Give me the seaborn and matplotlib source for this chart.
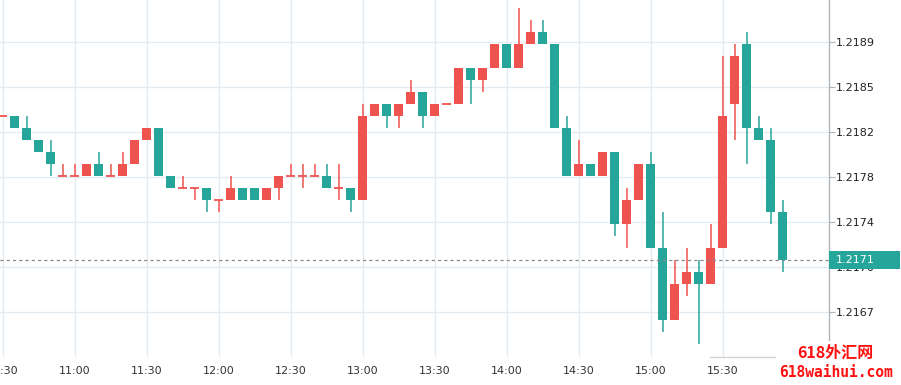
import numpy as np
import pandas as pd
import matplotlib
matplotlib.use("Agg")
import matplotlib.pyplot as plt
import matplotlib.transforms as mtransforms
from matplotlib.patches import Rectangle
from matplotlib.lines import Line2D
import seaborn as sns

# 5 minute candles, 10:30 -> 15:55
opens = [1.2183, 1.2183, 1.2182, 1.2181, 1.2180, 1.2178, 1.2178, 1.2178, 1.2179, 1.2178,
         1.2178, 1.2179, 1.2181, 1.2182, 1.2178, 1.2177, 1.2177, 1.2177, 1.2176, 1.2176,
         1.2177, 1.2177, 1.2176, 1.2177, 1.2178, 1.2178, 1.2178, 1.2178, 1.2177, 1.2177,
         1.2176, 1.2183, 1.2184, 1.2183, 1.2184, 1.2185, 1.2183, 1.2184, 1.2184, 1.2187,
         1.2186, 1.2187, 1.2189, 1.2187, 1.2189, 1.2190, 1.2189, 1.2182, 1.2178, 1.2179,
         1.2178, 1.2180, 1.2174, 1.2176, 1.2179, 1.2172, 1.2166, 1.2169, 1.2170, 1.2169,
         1.2172, 1.2184, 1.2189, 1.2182, 1.2181, 1.2175]
highs = [1.2183, 1.2183, 1.2183, 1.2181, 1.2181, 1.2179, 1.2179, 1.2179, 1.2180, 1.2179,
         1.2180, 1.2181, 1.2182, 1.2182, 1.2178, 1.2178, 1.2177, 1.2177, 1.2176, 1.2178,
         1.2177, 1.2177, 1.2177, 1.2178, 1.2179, 1.2179, 1.2179, 1.2179, 1.2179, 1.2177,
         1.2184, 1.2184, 1.2184, 1.2184, 1.2186, 1.2185, 1.2184, 1.2184, 1.2187, 1.2187,
         1.2187, 1.2189, 1.2189, 1.2192, 1.2191, 1.2191, 1.2189, 1.2183, 1.2181, 1.2179,
         1.2180, 1.2180, 1.2177, 1.2179, 1.2180, 1.2175, 1.2171, 1.2172, 1.2171, 1.2174,
         1.2188, 1.2189, 1.2190, 1.2183, 1.2182, 1.2176]
lows = [1.2183, 1.2182, 1.2181, 1.2180, 1.2178, 1.2178, 1.2178, 1.2178, 1.2178, 1.2178,
        1.2178, 1.2179, 1.2181, 1.2178, 1.2177, 1.2177, 1.2176, 1.2175, 1.2175, 1.2176,
        1.2176, 1.2176, 1.2176, 1.2176, 1.2178, 1.2177, 1.2178, 1.2177, 1.2176, 1.2175,
        1.2176, 1.2183, 1.2182, 1.2182, 1.2184, 1.2182, 1.2183, 1.2184, 1.2184, 1.2184,
        1.2185, 1.2187, 1.2187, 1.2187, 1.2189, 1.2189, 1.2182, 1.2178, 1.2178, 1.2178,
        1.2178, 1.2173, 1.2172, 1.2176, 1.2172, 1.2165, 1.2166, 1.2168, 1.2164, 1.2169,
        1.2172, 1.2181, 1.2179, 1.2181, 1.2174, 1.2170]
closes = [1.2183, 1.2182, 1.2181, 1.2180, 1.2179, 1.2178, 1.2178, 1.2179, 1.2178, 1.2178,
          1.2179, 1.2181, 1.2182, 1.2178, 1.2177, 1.2177, 1.2177, 1.2176, 1.2176, 1.2177,
          1.2176, 1.2176, 1.2177, 1.2178, 1.2178, 1.2178, 1.2178, 1.2177, 1.2177, 1.2176,
          1.2183, 1.2184, 1.2183, 1.2184, 1.2185, 1.2183, 1.2184, 1.2184, 1.2187, 1.2186,
          1.2187, 1.2189, 1.2187, 1.2189, 1.2190, 1.2189, 1.2182, 1.2178, 1.2179, 1.2178,
          1.2180, 1.2174, 1.2176, 1.2179, 1.2172, 1.2166, 1.2169, 1.2170, 1.2169, 1.2172,
          1.2183, 1.2188, 1.2182, 1.2181, 1.2175, 1.2171]

time_ticks = [0, 6, 12, 18, 24, 30, 36, 42, 48, 54, 60]
time_labels = ["10:30", "11:00", "11:30", "12:00", "12:30", "13:00",
               "13:30", "14:00", "14:30", "15:00", "15:30"]

price_ticks = [1.216667, 1.217042, 1.217417, 1.217792, 1.218167, 1.218542, 1.218917]
price_labels = ["1.2167", "1.2170", "1.2174", "1.2178", "1.2182", "1.2185", "1.2189"]
top_tick, top_label = 1.219292, "1.2193"
last_price = 1.2171

UP = "#ef5350"
DOWN = "#26a69a"
GRID = "#e2ebf2"

df = pd.DataFrame({"open": opens, "high": highs, "low": lows, "close": closes})
df["x"] = np.arange(len(df))
df["up"] = df["close"] >= df["open"] - 1e-9
df["color"] = np.where(df["up"], UP, DOWN)
df["doji"] = (df["close"] - df["open"]).abs() < 1e-7

sns.set_theme(style="white")
plt.rcParams["font.family"] = ["DejaVu Sans"]

W, H = 901, 385
bottom_px, right_px = 357, 828.5
fig = plt.figure(figsize=(W / 100, H / 100), dpi=100)
ax = fig.add_axes([0, 1 - bottom_px / H, right_px / W, bottom_px / H])

# wicks
ax.vlines(df["x"], df["low"], df["high"], colors=df["color"], linewidth=1.1, zorder=2)
# bodies
body = df[~df["doji"]]
ax.bar(body["x"], (body["close"] - body["open"]).abs(),
       bottom=np.minimum(body["open"], body["close"]),
       width=0.75, color=body["color"], linewidth=0, zorder=3)
doji = df[df["doji"]]
ax.hlines(doji["open"], doji["x"] - 0.375, doji["x"] + 0.375,
          colors=doji["color"], linewidth=1.3, zorder=3)

# last price line
ax.axhline(last_price, color="#888888", linestyle=(0, (2.5, 2.5)), linewidth=0.9, zorder=4)

ax.set_xlim(-0.21, 68.83)
ax.set_ylim(1.2162942, 1.2192692)

ax.set_xticks(time_ticks)
ax.set_xticklabels(time_labels)
ax.set_yticks(price_ticks)
ax.set_yticklabels(price_labels)
ax.grid(True, color=GRID, linewidth=1.0, zorder=0)
ax.set_axisbelow(True)

ax.tick_params(axis="x", length=0, pad=6.5, labelsize=8, labelcolor="#333333")
ax.tick_params(axis="y", left=False, labelleft=False, right=True, labelright=True,
               length=4, width=0.8, color="#b0b3b8", pad=1.5, labelsize=8,
               labelcolor="#222222")
for side in ["top", "left", "bottom"]:
    ax.spines[side].set_visible(False)
ax.spines["right"].set_color("#b0b3b8")
ax.spines["right"].set_linewidth(1.0)

# partially visible top label
blend = mtransforms.blended_transform_factory(ax.transAxes, ax.transData)
ax.text(1 + 7 / right_px, top_tick, top_label, transform=blend, ha="left", va="center",
        fontsize=8, color="#222222", clip_on=False)

# last price badge
pip_h = 0.0001 * 9 / 12
ax.add_patch(Rectangle((1.0, last_price - pip_h), 72 / right_px, 2 * pip_h,
                       transform=blend, facecolor=DOWN, edgecolor="none",
                       clip_on=False, zorder=5))
ax.text(1 + 7 / right_px, last_price, "1.2171", transform=blend, ha="left",
        va="center", fontsize=8, color="white", clip_on=False, zorder=6)

# small line under chart and watermark
fig.add_artist(Line2D([710 / W, 776 / W], [1 - 356.5 / H, 1 - 356.5 / H],
                      color="#d4d4d4", linewidth=1.0))
fig.add_artist(Rectangle((776 / W, 0), 1 - 776 / W, 1 - 341 / H,
                         transform=fig.transFigure, facecolor="white",
                         edgecolor="none", zorder=10))
fig.text(835 / W, 1 - 353 / H, "618外汇网", ha="center", va="center",
         fontsize=11.5, fontweight="bold", color="#ff1010", zorder=11,
         family=["Noto Sans CJK SC", "DejaVu Sans"])
fig.text(836 / W, 1 - 372.5 / H, "618waihui.com", ha="center", va="center",
         fontsize=10.5, fontweight="bold", color="#ff1010", zorder=11,
         family=["DejaVu Sans Mono"])

fig.savefig("out.png", dpi=100, facecolor="white")
